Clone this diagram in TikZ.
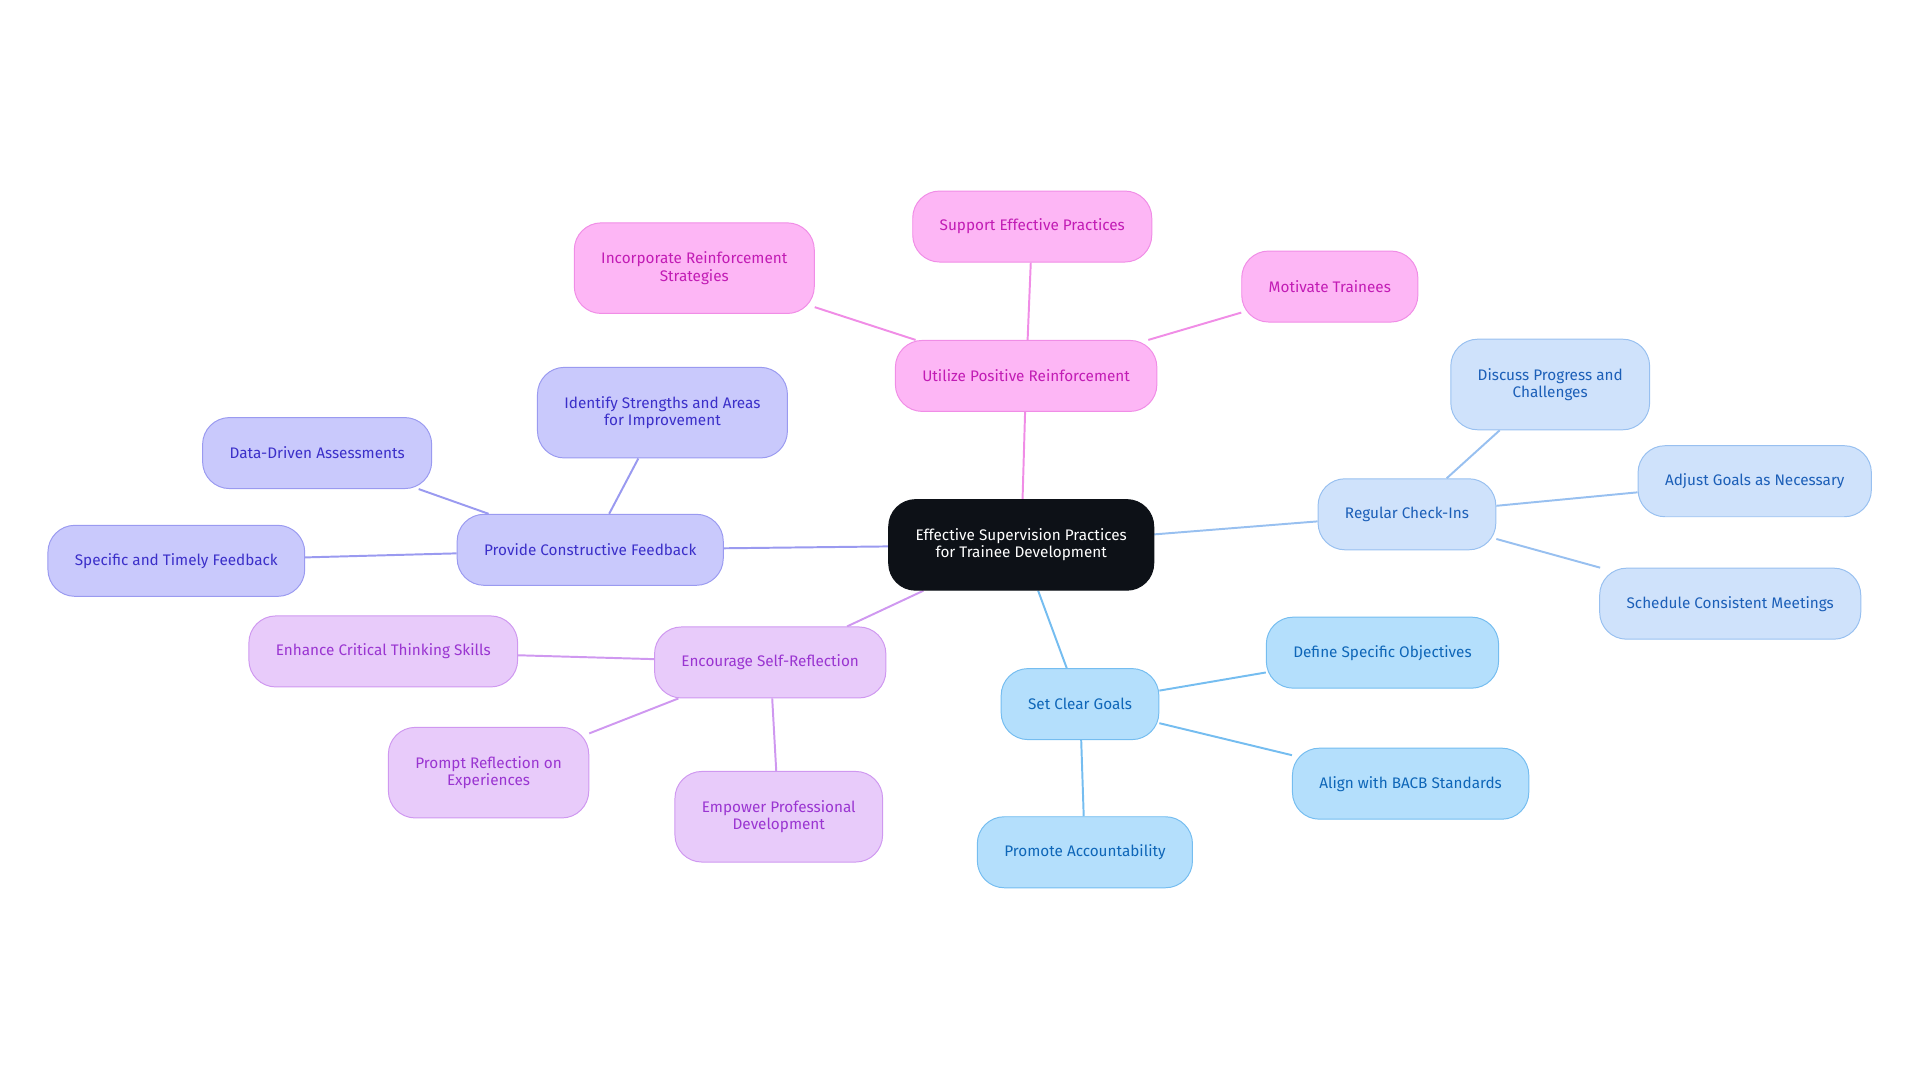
\documentclass[tikz,border=0pt]{standalone}
\usepackage{fontspec}
\setmainfont{Fira Sans}
\usetikzlibrary{backgrounds}
\definecolor{rootfill}{HTML}{0D1117}
\definecolor{pinkfill}{HTML}{FDB6F5}\definecolor{pinkline}{HTML}{F08DE6}\definecolor{pinktext}{HTML}{C21CB5}
\definecolor{lavfill}{HTML}{C9C9FC}\definecolor{lavline}{HTML}{9A9AF0}\definecolor{lavtext}{HTML}{3B2FC9}
\definecolor{purfill}{HTML}{E8CBFA}\definecolor{purline}{HTML}{CF98F0}\definecolor{purtext}{HTML}{9A35D1}
\definecolor{lbfill}{HTML}{CFE2FB}\definecolor{lbline}{HTML}{98C0F0}\definecolor{lbtext}{HTML}{1C5FB8}
\definecolor{skyfill}{HTML}{B4DFFC}\definecolor{skyline}{HTML}{75BDF0}\definecolor{skytext}{HTML}{0E66B8}
\tikzset{
  box/.style={rounded corners=22pt, minimum height=58pt, inner xsep=22pt, align=center,
    font=\fontsize{12.5}{14}\selectfont, line width=0.8pt},
  root/.style={box, fill=rootfill, draw=rootfill, text=white, minimum height=74pt},
  pink/.style={box, fill=pinkfill, draw=pinkline, text=pinktext},
  lav/.style={box, fill=lavfill, draw=lavline, text=lavtext},
  pur/.style={box, fill=purfill, draw=purline, text=purtext},
  lb/.style={box, fill=lbfill, draw=lbline, text=lbtext},
  sky/.style={box, fill=skyfill, draw=skyline, text=skytext},
  link/.style={line width=1.6pt},
}
\begin{document}
\begin{tikzpicture}[x=1pt,y=-1pt]
\useasboundingbox (0,0) rectangle (1568,884);
% centre
\node[root] (root) at (834,445) {Effective Supervision Practices\\for Trainee Development};
% reinforcement
\node[pink] (pos) at (838,307) {Utilize Positive Reinforcement};
\node[pink] (sup) at (843,185) {Support Effective Practices};
\node[pink, minimum height=74pt] (inc) at (567,219) {Incorporate Reinforcement\\Strategies};
\node[pink] (mot) at (1086,234) {Motivate Trainees};
% feedback
\node[lav] (fb) at (482,449) {Provide Constructive Feedback};
\node[lav, minimum height=74pt] (ide) at (541,337) {Identify Strengths and Areas\\for Improvement};
\node[lav] (dat) at (259,370) {Data-Driven Assessments};
\node[lav] (spe) at (144,458) {Specific and Timely Feedback};
% reflection
\node[pur] (ref) at (629,541) {Encourage Self-Reflection};
\node[pur] (enh) at (313,532) {Enhance Critical Thinking Skills};
\node[pur, minimum height=74pt] (pro) at (399,631) {Prompt Reflection on\\Experiences};
\node[pur, minimum height=74pt] (emp) at (636,667) {Empower Professional\\Development};
% check-ins
\node[lb] (chk) at (1149,420) {Regular Check-Ins};
\node[lb, minimum height=74pt] (dis) at (1266,314) {Discuss Progress and\\Challenges};
\node[lb] (adj) at (1433,393) {Adjust Goals as Necessary};
\node[lb] (sch) at (1413,493) {Schedule Consistent Meetings};
% goals
\node[sky] (goa) at (882,575) {Set Clear Goals};
\node[sky] (def) at (1129,533) {Define Specific Objectives};
\node[sky] (ali) at (1152,640) {Align with BACB Standards};
\node[sky] (acc) at (886,696) {Promote Accountability};
\begin{scope}[on background layer]
\foreach \a/\b in {root/pos,pos/sup,pos/inc,pos/mot} \draw[link, pinkline] (\a) -- (\b);
\foreach \a/\b in {root/fb,fb/ide,fb/dat,fb/spe} \draw[link, lavline] (\a) -- (\b);
\foreach \a/\b in {root/ref,ref/enh,ref/pro,ref/emp} \draw[link, purline] (\a) -- (\b);
\foreach \a/\b in {root/chk,chk/dis,chk/adj,chk/sch} \draw[link, lbline] (\a) -- (\b);
\foreach \a/\b in {root/goa,goa/def,goa/ali,goa/acc} \draw[link, skyline] (\a) -- (\b);
\end{scope}
\end{tikzpicture}
\end{document}
